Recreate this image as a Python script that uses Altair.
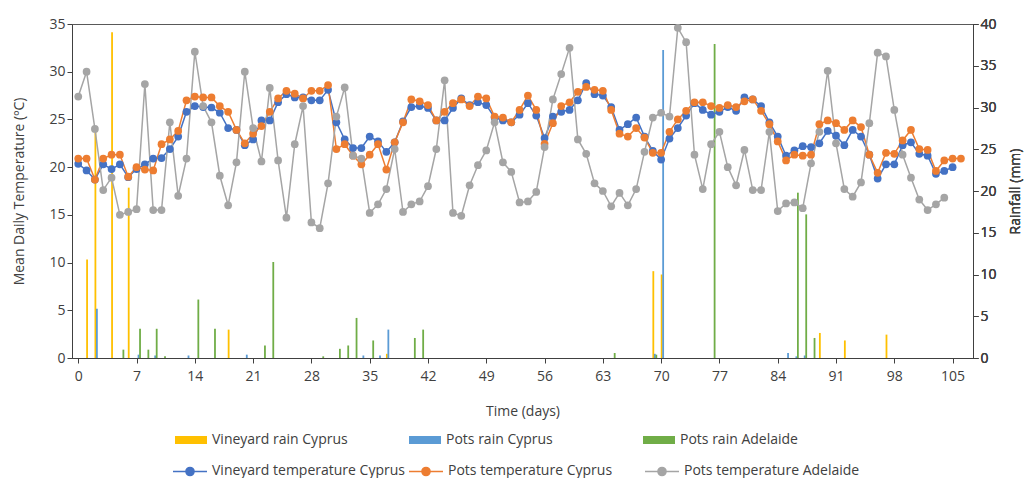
import altair as alt
import pandas as pd

# ---------------- data ----------------
vineyard_temp_cy = [20.35, 19.65, 18.7, 20.3, 19.8, 20.3, 18.95, 19.8, 20.3, 20.9, 20.95, 21.9, 23.2, 25.8, 26.4,
                    26.3, 26.25, 25.7, 24.1, 23.9, 22.3, 22.9, 24.9, 24.9, 26.8, 27.65, 27.3, 27.3, 27.0,
                    27.0, 28.1, 24.7, 22.9, 22.0, 22.0, 23.2, 22.7, 21.6, 22.6, 24.8, 26.3, 26.4, 26.2, 24.9,
                    24.9, 26.2, 27.2, 26.5, 26.8, 26.5, 25.2, 24.9, 24.7, 25.5, 26.7, 25.4,
                    23.05, 25.3, 25.8, 26.0, 27.0, 28.8, 27.65, 27.5, 26.3, 23.9, 24.5, 25.2, 23.2, 21.7,
                    20.8, 23.0, 24.1, 25.4, 26.7, 26.0, 25.5, 25.8, 26.3, 25.9, 27.3, 27.1, 26.4,
                    24.7, 23.2, 21.2, 21.75, 22.2, 22.1, 22.5, 23.8, 23.3, 22.3, 23.9, 23.2, 21.3, 18.8,
                    20.3, 20.3, 22.3, 22.6, 21.4, 21.2, 19.3, 19.6, 20.0]
pots_temp_cy = [20.9, 20.9, 18.7, 20.9, 21.3, 21.3, 19.0, 20.0, 19.75, 19.65, 22.4, 22.9, 23.8, 27.0, 27.4,
                27.3, 27.3, 26.4, 25.8, 23.9, 22.5, 23.5, 24.3, 25.8, 27.2, 28.0, 27.7, 27.2, 28.0,
                28.0, 28.6, 21.9, 22.4, 21.2, 20.3, 21.3, 22.4, 19.75, 22.6, 24.7, 27.1, 26.9, 26.5, 24.9,
                25.8, 26.7, 27.1, 26.4, 27.4, 27.2, 25.3, 25.2, 24.7, 26.0, 27.5, 26.0,
                22.45, 24.6, 26.4, 26.8, 27.9, 28.4, 28.1, 28.0, 26.0, 23.5, 23.2, 24.1, 23.1, 21.5,
                21.5, 23.7, 25.0, 25.9, 26.8, 26.8, 26.4, 26.2, 26.5, 26.3, 26.9, 27.1, 25.9,
                24.5, 22.7, 20.7, 21.3, 21.2, 21.3, 24.5, 24.9, 24.6, 23.9, 24.9, 24.2, 21.3, 19.4,
                21.5, 21.4, 22.8, 23.9, 21.9, 21.8, 19.6, 20.7, 20.9, 20.9]
pots_temp_ad = [27.4, 30.0, 24.0, 17.6, 18.9, 15.0, 15.3, 15.6, 28.7, 15.5, 15.5, 24.7, 17.0, 20.9, 32.1,
                26.4, 24.7, 19.1, 16.0, 20.5, 30.0, 24.1, 20.6, 28.3, 20.7, 14.7, 22.4, 26.4,
                14.2, 13.6, 18.3, 25.3, 28.35, 21.2, 20.9, 15.2, 16.1, 17.7, 21.9, 15.3, 16.1, 16.4,
                18.0, 21.9, 29.1, 15.2, 14.9, 18.1, 20.2, 21.75, 24.7, 20.5, 19.5, 16.3, 16.4, 17.4,
                22.1, 27.1, 29.75, 32.5, 22.9, 21.4, 18.3, 17.5, 15.9, 17.3, 16.0, 17.7, 21.6, 25.2,
                25.7, 25.3, 34.6, 33.1, 21.3, 17.7, 22.4, 23.7, 20.0, 18.1, 21.8, 17.6, 17.6,
                23.7, 15.4, 16.2, 16.3, 15.7, 20.4, 23.7, 30.1, 22.5, 17.7, 16.9, 18.4, 24.6, 32.0,
                31.6, 26.0, 21.3, 18.9, 16.6, 15.5, 16.1, 16.8]

vineyard_rain_days = [1, 2, 4, 6, 18, 37, 69, 70, 89, 92, 97]
vineyard_rain_mm = [11.8, 27.2, 39.0, 20.4, 3.4, 0.5, 10.4, 10.0, 3.0, 2.1, 2.8]
pots_rain_cy_days = [2, 7, 9, 13, 20, 34, 36, 37, 69, 70, 85, 86, 87]
pots_rain_cy_mm = [5.9, 0.4, 0.3, 0.3, 0.4, 0.3, 0.3, 3.4, 0.5, 36.9, 0.6, 0.2, 0.3]
pots_rain_ad_days = [5, 7, 8, 9, 10, 14, 16, 22, 23, 29, 31, 32, 33, 35, 40, 41, 64, 69, 76, 86, 87, 88]
pots_rain_ad_mm = [1.0, 3.5, 1.0, 3.5, 0.2, 7.0, 3.5, 1.5, 11.5, 0.2, 1.1, 1.5, 4.8, 2.1, 2.4, 3.4,
                   0.6, 0.4, 37.6, 19.8, 17.2, 2.4]

line_names = ["Vineyard temperature Cyprus", "Pots temperature Cyprus", "Pots temperature Adelaide"]
line_colors = ["#4472C4", "#ED7D31", "#A5A5A5"]
rain_names = ["Vineyard rain Cyprus", "Pots rain Cyprus", "Pots rain Adelaide"]
rain_colors = ["#FFC000", "#5B9BD5", "#70AD47"]
x_ticks = list(range(0, 106, 7))
temp_ticks = list(range(0, 36, 5))
rain_ticks = list(range(0, 41, 5))

# ---------------- tables ----------------
temp_rows = []
for name, vals in zip(line_names, [vineyard_temp_cy, pots_temp_cy, pots_temp_ad]):
    for d, v in enumerate(vals):
        temp_rows.append({"day": d, "temp": v, "series": name})
temp_df = pd.DataFrame(temp_rows)

rain_sets = [(rain_names[0], vineyard_rain_days, vineyard_rain_mm),
             (rain_names[1], pots_rain_cy_days, pots_rain_cy_mm),
             (rain_names[2], pots_rain_ad_days, pots_rain_ad_mm)]

FONT = "Open Sans"
TXT = "#404040"
FS = 14

x_scale = alt.Scale(domain=[-0.15, 106.85], nice=False, zero=False)
x_axis = alt.Axis(values=x_ticks, title="Time (days)", grid=False, labelFontSize=FS,
                  titleFontSize=FS, titleFontWeight="normal", tickSize=5, labelPadding=6,
                  titlePadding=21, labelFlush=False)

rain_fill = alt.Fill(
    "series:N",
    scale=alt.Scale(domain=rain_names, range=rain_colors),
    legend=alt.Legend(title=None, orient="none", legendX=102, legendY=399, direction="horizontal",
                      columns=3, gridAlign="all", columnPadding=60, labelFontSize=FS,
                      symbolType="M-1,-0.25H1V0.25H-1Z", symbolSize=1024, symbolOffset=0,
                      labelOffset=4, padding=0, labelColor=TXT, labelFont=FONT, labelLimit=0),
)

bar_layers = []
offsets = [0.5, 2.0, 3.5]
for (name, days, mm), off in zip(rain_sets, offsets):
    df = pd.DataFrame({"day": days, "rain": mm, "series": name})
    bar_layers.append(
        alt.Chart(df).mark_bar(size=1.8, xOffset=off).encode(
            x=alt.X("day:Q", scale=x_scale, axis=x_axis),
            y=alt.Y("rain:Q", scale=alt.Scale(domain=[0, 40], nice=False),
                    axis=alt.Axis(orient="right", values=rain_ticks, title="Rainfall (mm)",
                                  titleAngle=270, grid=False, tickSize=5, labelFontSize=FS,
                                  titleFontSize=FS, titleFontWeight="normal", titlePadding=26)),
            fill=rain_fill,
        )
    )

lines = alt.Chart(temp_df).mark_line(
    strokeWidth=1.5, point=alt.OverlayMarkDef(filled=True, size=60, opacity=1)
).encode(
    x=alt.X("day:Q", scale=x_scale, axis=x_axis),
    y=alt.Y("temp:Q", scale=alt.Scale(domain=[0, 35], nice=False),
            axis=alt.Axis(orient="left", values=temp_ticks, title="Mean Daily Temperature (ºC)",
                          grid=False, tickSize=5, labelFontSize=FS, titleFontSize=FS,
                          titleFontWeight="normal", titlePadding=22)),
    color=alt.Color(
        "series:N",
        scale=alt.Scale(domain=line_names, range=line_colors),
        legend=alt.Legend(title=None, orient="none", legendX=100, legendY=429, direction="horizontal",
                          columns=3, gridAlign="all", columnPadding=1, labelFontSize=FS,
                          symbolType="M-1,0H1M0.24,0A0.24,0.24,0,1,1,-0.24,0A0.24,0.24,0,1,1,0.24,0Z",
                          symbolSize=1156, symbolStrokeWidth=1.5, symbolOffset=0, labelOffset=4,
                          padding=0, labelColor=TXT, labelFont=FONT, labelLimit=0),
    ),
    order=alt.Order("day:Q"),
)

chart = alt.layer(*bar_layers, lines).resolve_scale(y="independent").properties(
    width=901, height=334,
    autosize=alt.AutoSizeParams(type="none"),
    padding={"left": 72, "top": 24, "right": 55, "bottom": 120},
    background="white",
).configure_view(stroke="#595959", strokeWidth=1).configure_axis(
    labelFont=FONT, titleFont=FONT, labelColor=TXT, titleColor=TXT,
    domainColor="#404040", tickColor="#404040",
).configure_legend(labelFont=FONT)

chart.save("out.html", embed_options={"renderer": "svg", "actions": False})
